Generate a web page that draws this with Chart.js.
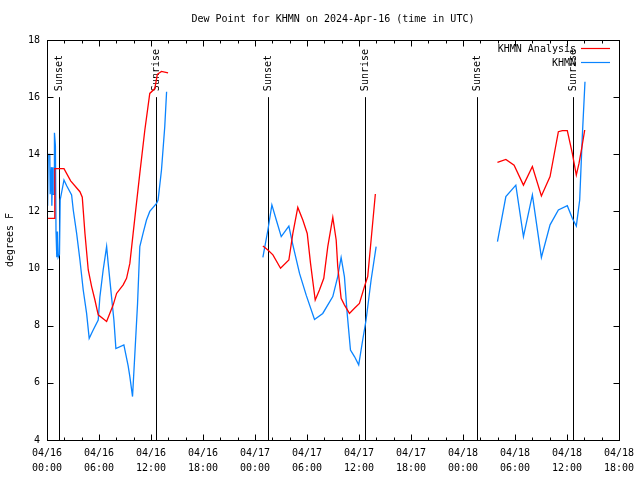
<!DOCTYPE html>
<html>
<head>
<meta charset="utf-8">
<title>Dew Point for KHMN</title>
<script src="https://cdn.jsdelivr.net/npm/chart.js@4.4.1/dist/chart.umd.min.js"></script>
<style>
  html, body { margin: 0; padding: 0; background: #fff; }
  canvas { display: block; }
</style>
</head>
<body>
<canvas id="dewChart" width="640" height="480"></canvas>
<script>
// x = hours since 2024-04-16 00:00 UTC, y = dew point (F); null breaks the line
const analysisHours = [0.12, 0.89, 0.9, 1.96, 2.73, 3.80, 4.07, 4.38, 4.76, 5.15, 5.53, 5.91, 6.88, 7.64, 8.03, 8.79, 9.18, 9.56, 9.94, 10.33, 10.71, 11.29, 11.86, 12.44, 12.73, 13.21, 13.97,
  19,
  24.91, 25.49, 26.07, 26.95, 27.91, 28.37, 28.94, 29.52, 30.03, 30.41, 30.95, 31.44, 31.94, 32.40, 32.98, 33.37, 33.55, 33.94, 34.32, 34.90, 35.48, 36.05, 36.63, 37.01, 37.40, 37.89,
  45,
  51.98, 52.95, 53.90, 54.98, 56.01, 57.05, 58.05, 59.01, 59.47, 60.04, 60.62, 61.08, 61.39, 61.70, 62.05];
const analysisDew = [11.76, 11.76, 13.5, 13.5, 13.07, 12.69, 12.5, 11.23, 9.95, 9.37, 8.9, 8.38, 8.15, 8.73, 9.13, 9.43, 9.66, 10.18, 11.23, 12.3, 13.33, 14.85, 16.13, 16.3, 16.8, 16.9, 16.85,
  null,
  10.79, 10.65, 10.48, 10.01, 10.3, 11.23, 12.14, 11.7, 11.23, 10.18, 8.9, 9.25, 9.66, 10.77, 11.79, 11.0, 10.07, 8.96, 8.73, 8.43, 8.61, 8.78, 9.37, 9.72, 11.0, 12.61,
  null,
  13.72, 13.82, 13.62, 12.92, 13.57, 12.54, 13.22, 14.79, 14.83, 14.83, 14.03, 13.27, 13.68, 14.21, 14.85];

const obsHours = [0.07, 0.14, 0.32, 0.37, 0.51, 0.56, 0.65, 0.69, 0.82, 0.86, 0.97, 1.04, 1.13, 1.21, 1.29, 1.44, 1.52, 1.96, 2.27, 2.84, 3.03, 3.42, 3.80, 4.18, 4.57, 4.87, 5.33, 5.91, 6.10, 6.48, 6.88, 7.06, 7.45, 7.72, 7.95, 8.87, 9.36, 9.56, 9.87, 10.14, 10.45, 10.71, 11.09, 11.48, 11.86, 12.64, 12.82, 13.21, 13.59, 13.80,
  19,
  24.91, 25.49, 25.95, 26.46, 27.03, 27.91, 28.37, 29.14, 29.91, 30.87, 31.82, 32.98, 33.55, 33.94, 34.32, 34.64, 35.02, 35.48, 35.97, 36.43, 36.82, 37.40, 37.98,
  45,
  51.98, 52.95, 54.10, 54.98, 56.01, 57.05, 58.05, 59.01, 60.04, 60.62, 61.08, 61.47, 61.77, 62.08];
const obsDew = [12.2, 14.0, 14.0, 12.6, 13.55, 12.2, 13.55, 12.6, 12.6, 14.75, 14.3, 11.3, 10.4, 11.3, 10.4, 10.5, 12.4, 13.1, 12.9, 12.58, 12.05, 11.23, 10.3, 9.25, 8.43, 7.56, 7.85, 8.2, 9.0, 9.95, 10.77, 10.18, 9.0, 8.2, 7.2, 7.33, 6.6, 6.22, 5.52, 7.03, 8.78, 10.77, 11.24, 11.7, 12.0, 12.28, 12.4, 13.45, 14.97, 16.19,
  null,
  10.39, 11.35, 12.23, 11.7, 11.12, 11.49, 10.83, 9.83, 9.07, 8.22, 8.43, 9.02, 9.72, 10.39, 9.72, 8.43, 7.15, 6.92, 6.63, 7.5, 8.2, 9.6, 10.77,
  null,
  10.94, 12.52, 12.92, 11.12, 12.58, 10.39, 11.53, 12.05, 12.2, 11.76, 11.49, 12.4, 14.62, 16.54];

const eventHours = [1.42, 12.59, 25.49, 36.66, 49.6, 60.72];
const eventLabels = ["Sunset", "Sunrise", "Sunset", "Sunrise", "Sunset", "Sunrise"];
const eventTop = 16;

const xTickDays = ["04/16", "04/16", "04/16", "04/16", "04/17", "04/17", "04/17", "04/17", "04/18", "04/18", "04/18", "04/18"];
const xTickTimes = ["00:00", "06:00", "12:00", "18:00", "00:00", "06:00", "12:00", "18:00", "00:00", "06:00", "12:00", "18:00"];
const yTicks = [4, 6, 8, 10, 12, 14, 16, 18];

const MONO = "'DejaVu Sans Mono', 'Liberation Mono', monospace";
const RED = "#ff0000";
const BLUE = "#0a84ff";

const toPoints = (xs, ys) => xs.map((h, i) => ({ x: h, y: ys[i] }));

const gnuplotFrame = {
  id: "gnuplotFrame",
  beforeDraw(chart) {
    const ctx = chart.ctx;
    ctx.save();
    ctx.fillStyle = "#fff";
    ctx.fillRect(0, 0, chart.width, chart.height);
    ctx.restore();
  },
  beforeDatasetsDraw(chart) {
    const { ctx, scales: { x, y } } = chart;
    ctx.save();
    ctx.strokeStyle = "#000";
    ctx.lineWidth = 1;
    ctx.fillStyle = "#000";
    ctx.font = "10px " + MONO;
    const yBottom = y.getPixelForValue(4);
    const yTop = y.getPixelForValue(eventTop);
    eventHours.forEach((h, i) => {
      const px = Math.round(x.getPixelForValue(h)) + 0.5;
      ctx.beginPath();
      ctx.moveTo(px, yBottom);
      ctx.lineTo(px, yTop);
      ctx.stroke();
      ctx.save();
      ctx.translate(px, yTop - 6);
      ctx.rotate(-Math.PI / 2);
      ctx.textAlign = "left";
      ctx.textBaseline = "middle";
      ctx.fillText(eventLabels[i], 0, 0);
      ctx.restore();
    });
    ctx.restore();
  },
  afterDatasetsDraw(chart) {
    const { ctx, chartArea: a, scales: { x, y } } = chart;
    ctx.save();
    ctx.strokeStyle = "#000";
    ctx.lineWidth = 1;
    const L = Math.round(a.left) + 0.5, R = Math.round(a.right) + 0.5;
    const T = Math.round(a.top) + 0.5, B = Math.round(a.bottom) + 0.5;
    ctx.strokeRect(L, T, R - L, B - T);

    ctx.beginPath();
    for (let h = 0; h <= 66; h += 2) {
      const len = h % 6 === 0 ? 6 : 3;
      const px = Math.round(x.getPixelForValue(h)) + 0.5;
      ctx.moveTo(px, B); ctx.lineTo(px, B - len);
      ctx.moveTo(px, T); ctx.lineTo(px, T + len);
    }
    yTicks.forEach(v => {
      const py = Math.round(y.getPixelForValue(v)) + 0.5;
      ctx.moveTo(L, py); ctx.lineTo(L + 6, py);
      ctx.moveTo(R, py); ctx.lineTo(R - 6, py);
    });
    ctx.stroke();

    // title
    ctx.fillStyle = "#000";
    ctx.font = "10px " + MONO;
    ctx.textAlign = "center";
    ctx.textBaseline = "middle";
    ctx.fillText("Dew Point for KHMN on 2024-Apr-16 (time in UTC)", (a.left + a.right) / 2, 19);

    // key, gnuplot style: text then line sample
    const key = [["KHMN Analysis", RED, 49], ["KHMN", BLUE, 63]];
    ctx.textAlign = "right";
    ctx.lineWidth = 1.2;
    key.forEach(([label, color, ky]) => {
      ctx.fillStyle = "#000";
      ctx.fillText(label, 576, ky);
      ctx.strokeStyle = color;
      ctx.beginPath();
      ctx.moveTo(581, ky - 0.5);
      ctx.lineTo(610, ky - 0.5);
      ctx.stroke();
    });
    ctx.restore();
  }
};

new Chart(document.getElementById("dewChart"), {
  type: "line",
  data: {
    datasets: [
      { label: "KHMN Analysis", data: toPoints(analysisHours, analysisDew), borderColor: RED, borderWidth: 1.3, pointRadius: 0, tension: 0, spanGaps: false },
      { label: "KHMN", data: toPoints(obsHours, obsDew), borderColor: BLUE, borderWidth: 1.3, pointRadius: 0, tension: 0, spanGaps: false }
    ]
  },
  options: {
    responsive: false,
    animation: false,
    devicePixelRatio: 1,
    layout: { padding: { top: 40, right: 20, left: 0, bottom: 0 } },
    plugins: { legend: { display: false }, title: { display: false }, tooltip: { enabled: false } },
    scales: {
      x: {
        type: "linear",
        min: 0,
        max: 66,
        afterFit: s => { s.height = 40; },
        grid: { display: false, drawTicks: false },
        border: { display: false },
        ticks: {
          stepSize: 6,
          autoSkip: false,
          maxRotation: 0,
          padding: 6,
          color: "#000",
          font: { family: MONO, size: 10, lineHeight: 1.5 },
          callback: v => [xTickDays[v / 6], xTickTimes[v / 6]]
        }
      },
      y: {
        min: 4,
        max: 18,
        afterFit: s => { s.width = 47; },
        grid: { display: false, drawTicks: false },
        border: { display: false },
        title: { display: true, text: "degrees F", color: "#000", font: { family: MONO, size: 10 }, padding: { top: 4, bottom: 0 } },
        ticks: {
          stepSize: 2,
          padding: 7,
          color: "#000",
          font: { family: MONO, size: 10 }
        }
      }
    }
  },
  plugins: [gnuplotFrame]
});
</script>
</body>
</html>
